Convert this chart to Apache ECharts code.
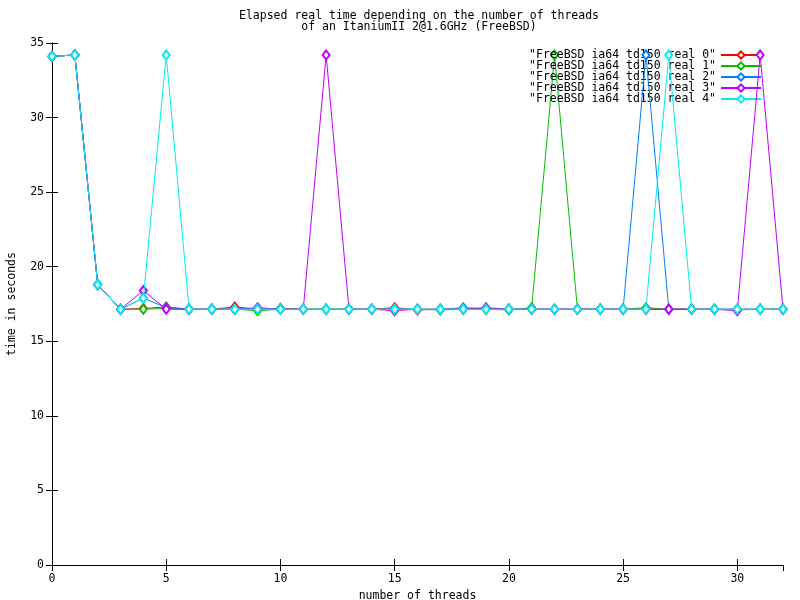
<!DOCTYPE html>
<html>
<head>
<meta charset="utf-8">
<script src="https://cdn.jsdelivr.net/npm/echarts@6/dist/echarts.min.js"></script>
<style>html,body{margin:0;padding:0;background:#fff}#c{width:800px;height:600px}</style>
</head>
<body>
<div id="c"></div>
<script>
const threads = [0,1,2,3,4,5,6,7,8,9,10,11,12,13,14,15,16,17,18,19,20,21,22,23,24,25,26,27,28,29,30,31,32];
const seriesNames = ['"FreeBSD ia64 td150 real 0"','"FreeBSD ia64 td150 real 1"','"FreeBSD ia64 td150 real 2"','"FreeBSD ia64 td150 real 3"','"FreeBSD ia64 td150 real 4"'];
const real0 = [34.1,34.2,18.8,17.15,17.2,17.3,17.15,17.15,17.3,17.15,17.2,17.15,17.15,17.15,17.15,17.25,17.1,17.15,17.15,17.15,17.15,17.15,17.15,17.15,17.15,17.15,17.15,17.15,17.15,17.15,17.15,17.15,17.15];
const real1 = [34.1,34.2,18.8,17.15,17.15,17.2,17.15,17.15,17.15,17.05,17.15,17.15,17.15,17.15,17.15,17.15,17.15,17.1,17.15,17.15,17.1,17.25,34.2,17.15,17.15,17.15,17.25,17.15,17.15,17.15,17.1,17.15,17.15];
const real2 = [34.1,34.2,18.8,17.15,17.9,17.25,17.15,17.15,17.15,17.25,17.15,17.15,17.15,17.15,17.15,17.15,17.15,17.15,17.25,17.2,17.15,17.15,17.15,17.15,17.15,17.15,34.2,17.15,17.15,17.15,17.15,17.15,17.15];
const real3 = [34.1,34.2,18.8,17.15,18.4,17.15,17.15,17.15,17.15,17.2,17.15,17.15,34.2,17.15,17.15,17.05,17.15,17.15,17.15,17.25,17.15,17.15,17.15,17.15,17.15,17.15,17.15,17.15,17.15,17.15,17.05,34.2,17.15];
const real4 = [34.1,34.2,18.8,17.15,17.9,34.2,17.15,17.15,17.15,17.15,17.15,17.15,17.15,17.15,17.15,17.15,17.15,17.15,17.15,17.15,17.15,17.15,17.15,17.15,17.15,17.15,17.15,34.2,17.15,17.15,17.15,17.15,17.15];
const allValues = [real0, real1, real2, real3, real4];
const colors = ['#ff0000','#00c000','#0080ff','#c000ff','#00eeee'];

const font = '"DejaVu Sans Mono", "Liberation Mono", monospace';
const chart = echarts.init(document.getElementById('c'), null, {renderer:'canvas'});

const series = allValues.map((vals, i) => ({
  name: seriesNames[i],
  type: 'line',
  data: threads.map((t, j) => [t, vals[j]]),
  symbol: 'emptyDiamond',
  symbolSize: [7, 9],
  showSymbol: true,
  showAllSymbol: true,
  color: colors[i],
  lineStyle: {width: 1, color: colors[i]},
  itemStyle: {color: colors[i], borderWidth: 0.8},
  emphasis: {disabled: true},
  z: 2 + i
}));

const axisCommon = {
  type: 'value',
  axisLine: {show: true, lineStyle: {color: '#000', width: 1}},
  axisTick: {show: true, inside: true, length: 6, lineStyle: {color: '#000'}},
  splitLine: {show: false}
};

chart.setOption({
  animation: false,
  backgroundColor: '#fff',
  title: {
    text: 'Elapsed real time depending on the number of threads\nof an ItaniumII 2@1.6GHz (FreeBSD)',
    left: 414, top: 6, textAlign: 'center',
    textStyle: {fontFamily: font, fontSize: 11.5, fontWeight: 'normal', color: '#000', lineHeight: 11}
  },
  legend: {
    orient: 'vertical',
    right: 33, top: 44,
    align: 'right',
    itemWidth: 40, itemHeight: 9, itemGap: -1,
    textStyle: {fontFamily: font, fontSize: 11.5, color: '#000', lineHeight: 11},
    data: seriesNames
  },
  grid: {left: 52, right: 17, top: 43, bottom: 35, containLabel: false, outerBoundsMode: 'none'},
  xAxis: [
    Object.assign({}, axisCommon, {
      position: 'bottom', min: 0, max: 32, interval: 5,
      name: 'number of threads', nameLocation: 'middle', nameGap: 24,
      nameTextStyle: {fontFamily: font, fontSize: 11.5, color: '#000'},
      axisLabel: {fontFamily: font, fontSize: 11.5, color: '#000', margin: 8, showMaxLabel: false}
    }),
    Object.assign({}, axisCommon, {
      position: 'top', min: 0, max: 32, interval: 5,
      axisLabel: {show: false}
    })
  ],
  yAxis: [
    Object.assign({}, axisCommon, {
      position: 'left', min: 0, max: 35, interval: 5,
      name: 'time in seconds', nameLocation: 'middle', nameGap: 34,
      nameTextStyle: {fontFamily: font, fontSize: 11.5, color: '#000'},
      axisLabel: {fontFamily: font, fontSize: 11.5, color: '#000', margin: 8}
    }),
    Object.assign({}, axisCommon, {
      position: 'right', min: 0, max: 35, interval: 5,
      axisLabel: {show: false}
    })
  ],
  series: series
});
</script>
</body>
</html>
